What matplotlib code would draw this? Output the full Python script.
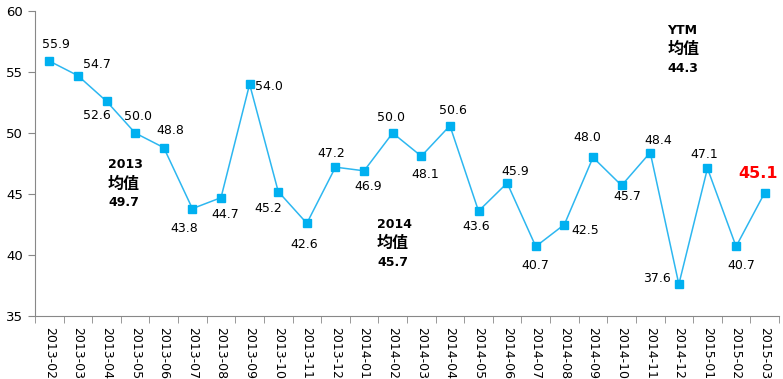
import matplotlib.pyplot as plt

plt.rcParams['font.family'] = ['DejaVu Sans', 'Noto Sans CJK SC']

# monthly index values
months = ['2013-02', '2013-03', '2013-04', '2013-05', '2013-06', '2013-07', '2013-08',
          '2013-09', '2013-10', '2013-11', '2013-12', '2014-01', '2014-02', '2014-03',
          '2014-04', '2014-05', '2014-06', '2014-07', '2014-08', '2014-09', '2014-10',
          '2014-11', '2014-12', '2015-01', '2015-02', '2015-03']
values = [55.9, 54.7, 52.6, 50.0, 48.8, 43.8, 44.7, 54.0, 45.2, 42.6, 47.2, 46.9, 50.0,
          48.1, 50.6, 43.6, 45.9, 40.7, 42.5, 48.0, 45.7, 48.4, 37.6, 47.1, 40.7, 45.1]

# period averages
avg_labels = ['2013', '2014', 'YTM']
avg_values = [49.7, 45.7, 44.3]

# label offsets in points (dx, dy) for each data label
offsets = [(5, 12), (14, 8), (-7, -10), (2, 12), (5, 12), (-6, -14), (3, -12), (14, -2),
           (-7, -12), (-2, -15), (-3, 10), (3, -11), (-1, 11), (3, -13), (2, 11), (-2, -11),
           (6, 8), (0, -14), (15, -4), (-4, 14), (4, -8), (6, 9), (-16, 4), (-2, 10),
           (4, -14), (-5, 14)]

fig = plt.figure(figsize=(7.83, 3.79), dpi=100)
ax = fig.add_axes([35 / 783, 1 - 316 / 379, 744 / 783, 305 / 379])

x = list(range(len(months)))
ax.plot(x, values, color='#2DB7F0', linewidth=1.1, marker='s', markersize=5.5,
        markerfacecolor='#00B0F0', markeredgecolor='#00B0F0')

for i, v in enumerate(values):
    dx, dy = offsets[i]
    last = i == len(values) - 1
    ax.annotate(f'{v:.1f}', (i, v), xytext=(dx, dy), textcoords='offset points',
                ha='center', va='center',
                fontsize=11.5 if last else 9,
                fontweight='bold' if last else 'normal',
                color='#FF0000' if last else 'black')

# average notes
avg_pos = [(2.05, 47.4), (11.45, 42.5), (21.6, 58.4)]
for (px, py), lab, val in zip(avg_pos, avg_labels, avg_values):
    ax.text(px, py, lab, fontsize=9, fontweight='bold', ha='left', va='center')
    ax.text(px, py - 1.55, '均值', fontsize=11.5, fontweight='bold', ha='left', va='center',
            family=['Noto Sans CJK SC'])
    ax.text(px, py - 3.1, f'{val:.1f}', fontsize=9, fontweight='bold', ha='left', va='center')

ax.set_xlim(-0.5, len(months) - 0.5)
ax.set_ylim(35, 60)
ax.set_yticks([35, 40, 45, 50, 55, 60])
ax.set_xticks(x)
ax.set_xticklabels(months, rotation=270, fontsize=9)
ax.set_xticks([i - 0.5 for i in range(len(months) + 1)], minor=True)
ax.tick_params(axis='x', which='major', length=0, pad=8)
ax.tick_params(axis='x', which='minor', length=5, color='#888888', direction='out')
ax.tick_params(axis='y', length=5, color='#888888', labelsize=9.5)

for s in ['top', 'right']:
    ax.spines[s].set_visible(False)
for s in ['left', 'bottom']:
    ax.spines[s].set_color('#888888')

fig.savefig('out.png', dpi=100)
